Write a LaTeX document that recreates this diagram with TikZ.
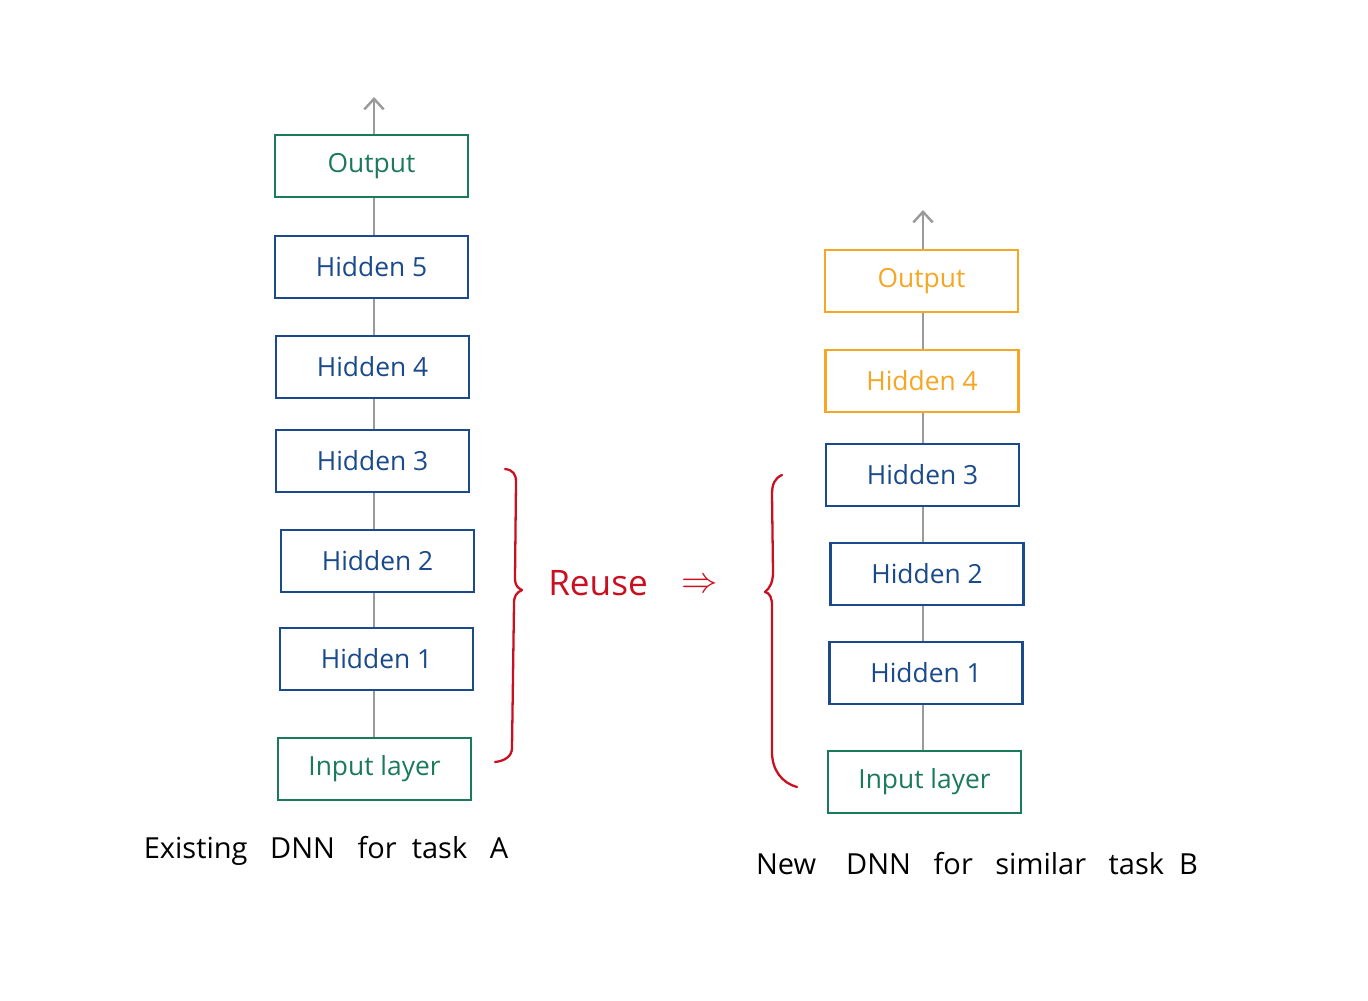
\documentclass[tikz,border=0pt]{standalone}
\usepackage{fontspec}
\setmainfont{Open Sans}
\usetikzlibrary{arrows.meta}
\definecolor{cgreen}{HTML}{1B7A5B}
\definecolor{cblue}{HTML}{1A4A8C}
\definecolor{corange}{HTML}{F5A623}
\definecolor{cred}{HTML}{C81020}
\definecolor{cgray}{HTML}{9A9A9A}
\begin{document}
\begin{tikzpicture}[x=0.02cm,y=-0.02cm,
  layer/.style={draw, line width=1.4pt, fill=white, minimum width=193*0.02cm, minimum height=62*0.02cm, inner sep=0pt, font=\fontsize{15}{18}\selectfont},
  gbox/.style={layer, draw=cgreen, text=cgreen},
  bbox/.style={layer, draw=cblue, text=cblue},
  obox/.style={layer, draw=corange, text=corange},
  link/.style={draw=cgray, line width=1.4pt},
  uparrow/.style={link, -{Straight Barb[length=6pt,width=11pt]}},
  bracestyle/.style={draw=cred, line width=1.3pt, line cap=round, line join=round},
  caption/.style={font=\fontsize{16.5}{19}\selectfont, text=black}
]
\useasboundingbox (0,0) rectangle (1368,1000);
% left column
\node[gbox] (lout) at (371.5,166) {Output};
\node[bbox] (lh5) at (371.5,267) {Hidden 5};
\node[bbox] (lh4) at (372.5,367) {Hidden 4};
\node[bbox] (lh3) at (372.5,461) {Hidden 3};
\node[bbox] (lh2) at (377.5,561) {Hidden 2};
\node[bbox] (lh1) at (376.5,659) {Hidden 1};
\node[gbox] (lin) at (374.5,769) {Input layer};
\coordinate (ltop) at (374,97);
\draw[uparrow] (lout.north -| ltop) -- (ltop);
\draw[link] (lout.south -| ltop) -- (lh5.north -| ltop);
\draw[link] (lh5.south -| ltop) -- (lh4.north -| ltop);
\draw[link] (lh4.south -| ltop) -- (lh3.north -| ltop);
\draw[link] (lh3.south -| ltop) -- (lh2.north -| ltop);
\draw[link] (lh2.south -| ltop) -- (lh1.north -| ltop);
\draw[link] (lh1.south -| ltop) -- (lin.north -| ltop);
% right column
\node[obox] (rout) at (921.5,281) {Output};
\node[obox] (rh4) at (922,381) {Hidden 4};
\node[bbox] (rh3) at (922.5,475) {Hidden 3};
\node[bbox] (rh2) at (927,574) {Hidden 2};
\node[bbox] (rh1) at (926,673) {Hidden 1};
\node[gbox] (rin) at (924.5,782) {Input layer};
\coordinate (rtop) at (923,210);
\draw[uparrow] (rout.north -| rtop) -- (rtop);
\draw[link] (rout.south -| rtop) -- (rh4.north -| rtop);
\draw[link] (rh4.south -| rtop) -- (rh3.north -| rtop);
\draw[link] (rh3.south -| rtop) -- (rh2.north -| rtop);
\draw[link] (rh2.south -| rtop) -- (rh1.north -| rtop);
\draw[link] (rh1.south -| rtop) -- (rin.north -| rtop);
% braces
\draw[bracestyle] (505,469) .. controls (513,470) and (516,474) .. (516,482)
  -- (515,578) .. controls (515,586) and (518,588) .. (522,590)
  .. controls (516,593) and (514,596) .. (514,604)
  -- (512,748) .. controls (512,756) and (505,761) .. (495,762);
\draw[bracestyle] (782,475) .. controls (775,478) and (772,484) .. (772,494)
  -- (773,572) .. controls (773,582) and (770,588) .. (765,592)
  .. controls (770,593) and (772,598) .. (772,606)
  -- (772,752) .. controls (772,770) and (782,783) .. (797,787);
% labels
\node[text=cred, font=\fontsize{20}{22}\selectfont] (reuse) at (598,583) {Reuse};
\node[text=cred, font=\fontsize{20}{22}\selectfont] (impl) at (700,586) {$\Rightarrow$};
\node[caption] (capA) at (326,851) {Existing\ \ \ DNN\ \ \ for\ \ task\ \ \ A};
\node[caption] (capB) at (977,864) {New\ \ \ \ DNN\ \ \ for\ \ \ similar\ \ \ task\ \ B};
\end{tikzpicture}
\end{document}
